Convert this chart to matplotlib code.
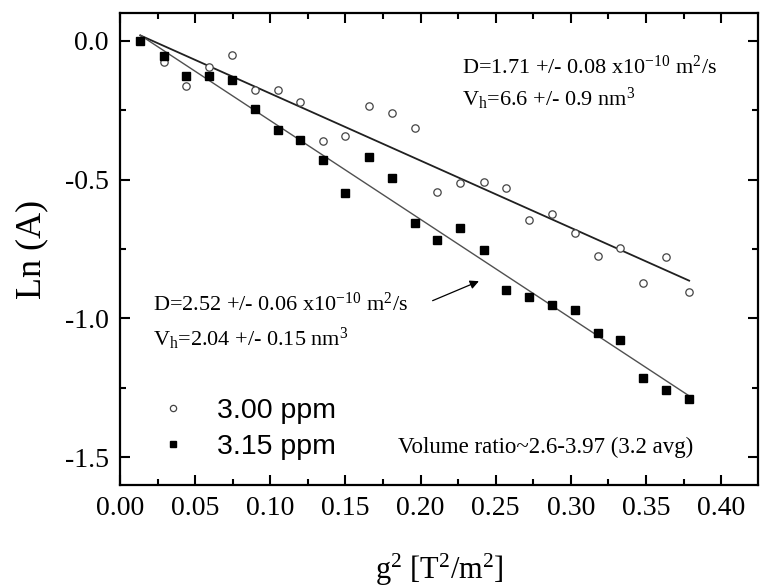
import matplotlib
matplotlib.use("Agg")
import matplotlib.pyplot as plt
import numpy as np
from matplotlib.ticker import MultipleLocator, FormatStrFormatter

plt.rcParams['axes.unicode_minus'] = False
plt.rcParams['mathtext.fontset'] = 'custom'
plt.rcParams['mathtext.rm'] = 'Liberation Serif'
plt.rcParams['mathtext.it'] = 'Liberation Serif'

g2 = [0.0135, 0.029, 0.044, 0.0595, 0.0745, 0.0896, 0.105, 0.120, 0.135, 0.150,
      0.166, 0.181, 0.196, 0.211, 0.2264, 0.242, 0.257, 0.2724, 0.2875, 0.3027,
      0.3178, 0.333, 0.348, 0.3634, 0.3787]
ln_300 = [0.0, -0.0755, -0.164, -0.0935, -0.0515, -0.176, -0.177, -0.219, -0.360, -0.343,
          -0.234, -0.260, -0.314, -0.546, -0.512, -0.510, -0.530, -0.645, -0.623, -0.694,
          -0.777, -0.747, -0.874, -0.779, -0.905]
ln_315 = [0.0, -0.056, -0.126, -0.128, -0.143, -0.246, -0.321, -0.356, -0.429, -0.548,
          -0.418, -0.495, -0.656, -0.716, -0.675, -0.755, -0.897, -0.924, -0.953, -0.969,
          -1.051, -1.077, -1.216, -1.259, -1.292]

fit_300 = (-2.419, 0.052)   # slope, intercept
fit_315 = (-3.557, 0.068)

labels = ["3.00 ppm", "3.15 ppm"]
txt_300 = ["D=1.71 +/- 0.08 x10$^{-10}$ m$^{2}$/s", "V$_{\\rm h}$=6.6 +/- 0.9 nm$^{3}$"]
txt_315 = ["D=2.52 +/- 0.06 x10$^{-10}$ m$^{2}$/s", "V$_{\\rm h}$=2.04 +/- 0.15 nm$^{3}$"]
ratio_txt = "Volume ratio~2.6-3.97 (3.2 avg)"

serif = 'Liberation Serif'
sans = 'Liberation Sans'

fig = plt.figure(figsize=(7.6, 5.87), dpi=100)
ax = fig.add_axes([120/760, (587-485)/587, (758-120)/760, (485-13)/587])

xf = np.array([g2[0], g2[-1]])
ax.plot(xf, fit_300[0]*xf + fit_300[1], color='#202020', lw=1.3, zorder=2)
ax.plot(xf, fit_315[0]*xf + fit_315[1], color='#505050', lw=1.0, zorder=2)

ax.plot(g2, ln_300, linestyle='none', marker='o', ms=5.3, mfc='white', mec='#444444', mew=0.9,
        label=labels[0], zorder=3)
ax.plot(g2, ln_315, linestyle='none', marker='s', ms=5.5, mfc='black', mec='black',
        label=labels[1], zorder=4)

ax.set_xlim(0, 0.4245)
ax.set_ylim(-1.6, 0.1)
ax.xaxis.set_major_locator(MultipleLocator(0.05))
ax.xaxis.set_minor_locator(MultipleLocator(0.025))
ax.yaxis.set_major_locator(MultipleLocator(0.5))
ax.yaxis.set_minor_locator(MultipleLocator(0.25))
ax.xaxis.set_major_formatter(FormatStrFormatter('%.2f'))
ax.yaxis.set_major_formatter(FormatStrFormatter('%.1f'))
ax.tick_params(which='both', direction='in', top=True, right=True, width=1.5)
ax.tick_params(which='major', length=7.5)
ax.tick_params(which='minor', length=4)
ax.tick_params(axis='both', labelsize=20, pad=8)
for lab in ax.get_xticklabels() + ax.get_yticklabels():
    lab.set_fontfamily(serif)
for s in ax.spines.values():
    s.set_linewidth(1.6)

ax.set_xlabel("g$^{2}$ [T$^{2}$/m$^{2}$]", fontsize=22, fontfamily=serif, labelpad=22)
ax.set_ylabel("Ln (A)", fontsize=26, fontfamily=serif, labelpad=12)

ax.text(0.2273, -0.1187, txt_300[0], fontsize=16, fontfamily=serif, va='baseline', ha='left')
ax.text(0.2273, -0.236, txt_300[1], fontsize=16, fontfamily=serif, va='baseline', ha='left')
ax.text(0.0218, -0.974, txt_315[0], fontsize=16, fontfamily=serif, va='baseline', ha='left')
ax.text(0.0218, -1.100, txt_315[1], fontsize=16, fontfamily=serif, va='baseline', ha='left')
ax.text(0.185, -1.4845, ratio_txt, fontsize=16.5, fontfamily=serif, va='baseline', ha='left')

ax.annotate("", xy=(0.2405, -0.862), xytext=(0.2063, -0.940),
            arrowprops=dict(arrowstyle='-|>', color='black', lw=0.9, mutation_scale=13))

leg = ax.legend(loc='upper left', bbox_to_anchor=(0.061, 0.184), frameon=False,
                borderaxespad=0, borderpad=0,
                prop={'family': sans, 'size': 20.5}, handletextpad=1.05, markerscale=0.85,
                labelspacing=0.34, handlelength=1.0)

fig.savefig("out.png", dpi=100)
